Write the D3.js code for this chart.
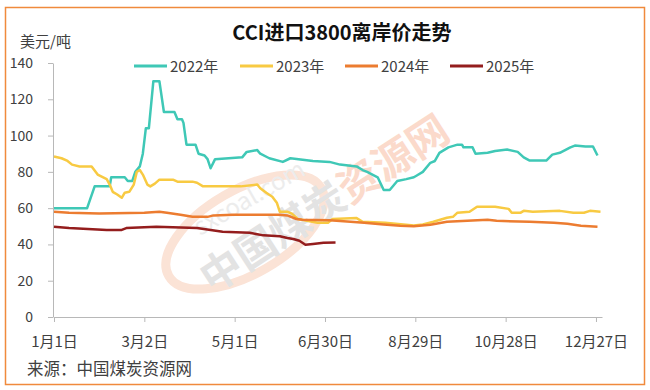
<!DOCTYPE html>
<html><head><meta charset="utf-8">
<script src="https://cdn.jsdelivr.net/npm/d3@7"></script>
<style>body{margin:0;background:#fff}text{font-family:"Noto Sans CJK SC","Noto Sans",sans-serif}</style>
</head><body>
<svg id="c" width="650" height="390"></svg>
<script>
// ---- data (day of year offset from Jan 1, price USD/t) ----
const seriesNames = ["2022年", "2023年", "2024年", "2025年"];
const days2022 = [0,22,27,37,38,47,49,52,54,57,59,61,63,66,70,73,80,82,85,86,88,94,96,100,102,104,107,125,128,135,137,143,152,157,172,183,190,201,205,208,215,219,223,228,234,239,241,245,250,253,256,262,268,271,272,278,280,288,293,301,308,312,316,327,331,336,343,346,353,358,361];
const values2022 = [60,60,72,72,77,77,75,75,80,83,90,104,104,130,130,113,113,109,109,107,95,95,90,89,87,82,87,88,91,92,90,87.5,85.5,87.5,86,85.5,84,83,81,80,77,70,70,75,76,77,78,80,85,86,90.5,93.5,95,95,93.5,93.5,90,90.5,91.5,92.3,91,88,86.2,86.2,89.5,90.5,93.5,94.5,94,94,89];
const days2023 = [0,5,9,12,17,25,29,35,37,39,42,45,47,50,53,55,57,59,62,64,67,70,79,82,92,95,99,124,135,137,141,145,148,150,155,158,162,175,182,185,201,205,220,239,245,252,261,265,268,276,281,293,302,304,310,312,318,336,345,352,356,363];
const values2023 = [88.5,87.5,86,84,83,83,78.5,76,73,69,67.5,65.7,68.5,69,73,80,81,78.5,73,72,73.5,75.7,75.7,74.6,74.6,74,72,72,73,71,68.5,66.3,63,58,58,57,54,52,52,54,54.5,52.5,52,50.5,51,52.5,54.7,55.2,57.5,58,60.8,60.8,59.6,57.5,57.5,58.5,58,58.5,57.5,57.5,58.5,58];
const days2024 = [0,10,30,60,70,75,84,92,102,106,119,150,155,161,165,183,197,206,219,230,239,250,261,288,294,316,332,341,350,361];
const values2024 = [58,57.5,57,57.5,58,57.5,56.4,55.2,55.2,56,56.4,56.4,56,54,53.6,53.3,52.5,52,51,50.3,50,50.8,52.5,53.6,53,52.5,52,51.4,50.3,49.7];
const days2025 = [0,10,35,45,48,68,95,112,130,139,150,155,159,163,167,172,179,187];
const values2025 = [49.7,49,48,48,49,49.7,49,47,46.4,45,44.5,43.5,43,42,39.8,40.3,40.9,41];
const xTickDays = [0,60,120,180,240,300,360];
const xTickLabels = ["1月1日","3月2日","5月1日","6月30日","8月29日","10月28日","12月27日"];
const yTickValues = [0,20,40,60,80,100,120,140];

const colors = ["#3fc8b6","#f8ca42","#ec7c30","#941d1d"];
const seriesDays = [days2022, days2023, days2024, days2025];
const seriesVals = [values2022, values2023, values2024, values2025];

const svg = d3.select("#c");
// frame
svg.append("rect").attr("x",5.5).attr("y",7.5).attr("width",639).attr("height",377)
  .attr("fill","#fff").attr("stroke","#f08a3c").attr("stroke-width",1.5);

const x = d3.scaleLinear().domain([0,364]).range([54,602]);
const y = d3.scaleLinear().domain([0,140]).range([317,63]);

// watermark
const wm = svg.append("g").attr("opacity",0.9);
wm.append("ellipse").attr("cx",245).attr("cy",232).attr("rx",88).attr("ry",42)
  .attr("transform","rotate(-30,245,232)").attr("fill","none").attr("stroke","#fbe0d2").attr("stroke-width",9);
wm.append("text").attr("transform","translate(200,236) rotate(-30)").attr("font-size",24)
  .attr("fill","#ebebeb").text("sxcoal.com");
const wt = wm.append("text").attr("transform","translate(212,294) rotate(-33)").attr("font-size",41).attr("font-weight","bold");
wt.append("tspan").attr("fill","#e0e0e0").text("中国煤炭");
wt.append("tspan").attr("fill","#fbd6c6").text("资源网");

// axes
const yAxis = svg.append("g").attr("transform","translate(53,0)")
  .call(d3.axisLeft(y).tickValues(yTickValues).tickSize(5).tickPadding(15).tickSizeOuter(0));
const xAxis = svg.append("g").attr("transform","translate(0,317)")
  .call(d3.axisBottom(x).tickValues(xTickDays).tickFormat((d,i)=>xTickLabels[i]).tickSize(5).tickPadding(14).tickSizeOuter(0));
[yAxis,xAxis].forEach(a=>{
  a.selectAll("path,line").attr("stroke","#b8b8b8");
  a.selectAll("text").attr("fill","#404040").attr("font-family",'"Noto Sans CJK SC",sans-serif');
});
yAxis.selectAll("text").attr("font-size",14);
xAxis.selectAll("text").attr("font-size",15);

// lines
const line = d3.line().x(d=>x(d[0])).y(d=>y(d[1]));
seriesDays.forEach((days,i)=>{
  const pts = days.map((d,j)=>[d, seriesVals[i][j]]);
  svg.append("path").datum(pts).attr("d",line).attr("fill","none")
    .attr("stroke",colors[i]).attr("stroke-width",2.5).attr("stroke-linejoin","round");
});

// title
svg.append("text").attr("x",342).attr("y",40).attr("text-anchor","middle")
  .attr("font-size",20).attr("font-weight","bold").attr("fill","#111").text("CCI进口3800离岸价走势");
svg.append("text").attr("x",20).attr("y",47).attr("font-size",15).attr("fill","#404040").text("美元/吨");

// legend
const legX = [134,240,345,450];
seriesNames.forEach((n,i)=>{
  const g = svg.append("g").attr("transform",`translate(${legX[i]},66)`);
  g.append("line").attr("x1",0).attr("x2",33).attr("y1",0).attr("y2",0).attr("stroke",colors[i]).attr("stroke-width",3);
  g.append("text").attr("x",36).attr("y",5.5).attr("font-size",15).attr("fill","#404040").text(n);
});

// source
svg.append("text").attr("x",27).attr("y",375).attr("font-size",16.5).attr("fill","#404040").text("来源：中国煤炭资源网");
</script>
</body></html>
